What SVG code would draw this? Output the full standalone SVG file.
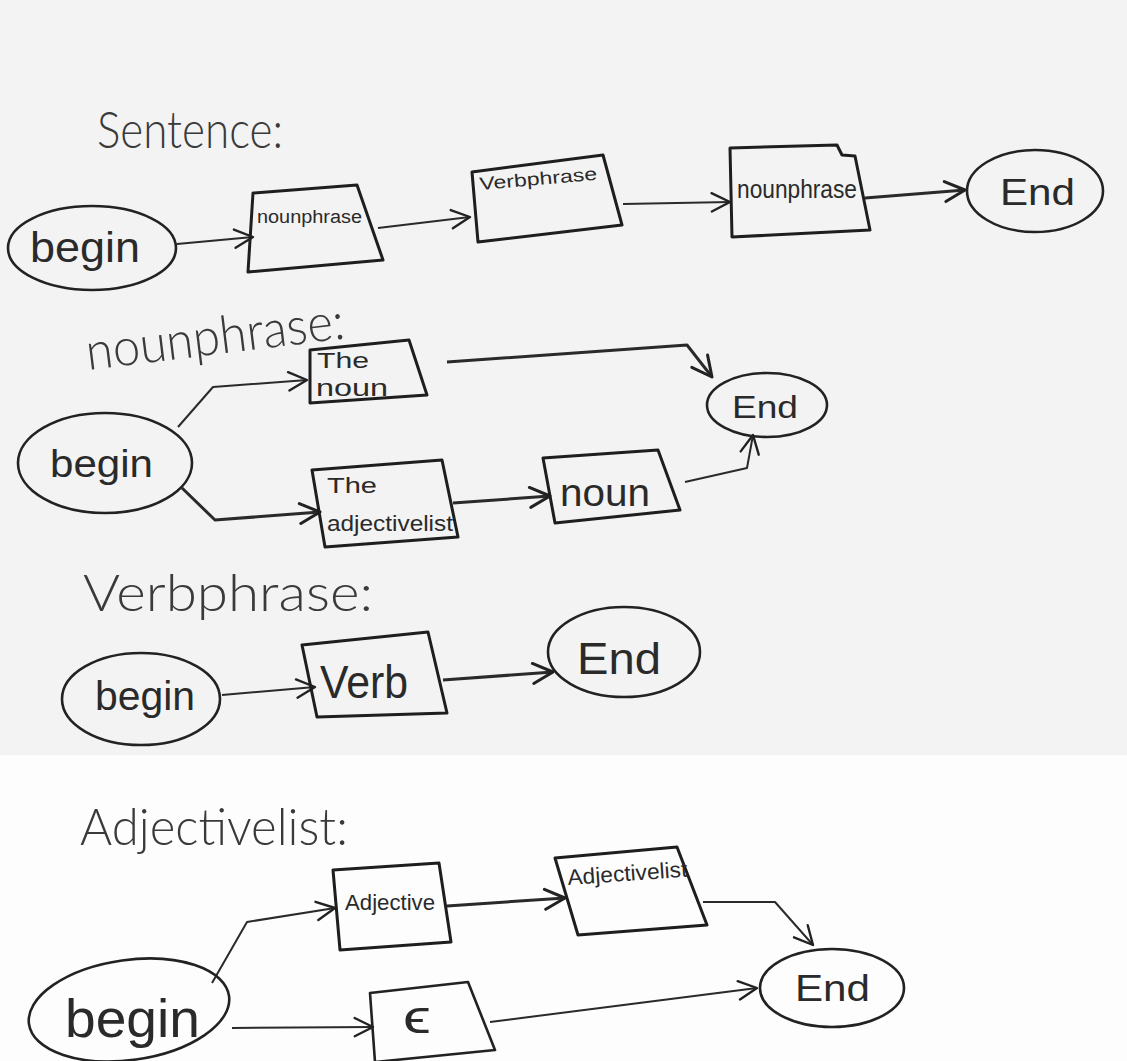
<svg xmlns="http://www.w3.org/2000/svg" width="1127" height="1061" viewBox="0 0 1127 1061">
<style>
.bg1{fill:#f3f3f3}
.bg2{fill:#fdfdfd}
.shape{fill:none;stroke:#222;stroke-width:2.6;stroke-linejoin:round}
.box{fill:none;stroke:#1e1e1e;stroke-width:3;stroke-linejoin:round}
.edge{fill:none;stroke:#2a2a2a;stroke-width:2;stroke-linejoin:round}
.thick{stroke-width:3}
.t{font-family:"Liberation Sans","DejaVu Sans",sans-serif;fill:#2a2a2a}
.title{font-family:Lato,"Open Sans","Liberation Sans",sans-serif;font-weight:300;font-size:52px;fill:#3a3a3a}
</style>
<defs>
<marker id="arr" viewBox="0 0 12 12" refX="11" refY="6" markerWidth="11" markerHeight="11" orient="auto" markerUnits="strokeWidth">
<path d="M1,1 L11,6 L1,11" fill="none" stroke="#222" stroke-width="1.3" stroke-linecap="round" stroke-linejoin="round"/>
</marker>
<marker id="arrB" viewBox="0 0 12 12" refX="11" refY="6" markerWidth="8" markerHeight="8" orient="auto" markerUnits="strokeWidth">
<path d="M1,1 L11,6 L1,11" fill="none" stroke="#222" stroke-width="1.5" stroke-linecap="round" stroke-linejoin="round"/>
</marker>
</defs>
<rect class="bg1" x="0" y="0" width="1127" height="755"/>
<rect class="bg2" x="0" y="755" width="1127" height="306"/>

<!-- Section titles -->
<g id="title-sentence"><text class="title" x="97" y="148" textLength="186" lengthAdjust="spacingAndGlyphs">Sentence:</text></g>
<g id="title-nounphrase"><text class="title" x="88" y="370" textLength="260" lengthAdjust="spacingAndGlyphs" transform="rotate(-7 88 370)">nounphrase:</text></g>
<g id="title-verbphrase"><text class="title" x="83" y="611" font-size="60" textLength="290" lengthAdjust="spacingAndGlyphs">Verbphrase:</text></g>
<g id="title-adjectivelist"><text class="title" x="80" y="845" font-size="56" textLength="268" lengthAdjust="spacingAndGlyphs">Adjectivelist:</text></g>

<g id="connectors">
<path class="edge" d="M177,244 L253,237" marker-end="url(#arr)"/>
<path class="edge" d="M378,228 L470,217" marker-end="url(#arr)"/>
<path class="edge" d="M623,204 L730,202" marker-end="url(#arr)"/>
<path class="edge thick" d="M865,198 L965,190" marker-end="url(#arrB)"/>
<path class="edge" d="M178,427 L213,387 L307,380" marker-end="url(#arr)"/>
<path class="edge thick" d="M182,488 L215,520 L320,512" marker-end="url(#arrB)"/>
<path class="edge thick" d="M447,362 L687,345 L712,377" marker-end="url(#arrB)"/>
<path class="edge thick" d="M453,503 L550,496" marker-end="url(#arrB)"/>
<path class="edge" d="M685,482 L747,468 L753,435" marker-end="url(#arr)"/>
<path class="edge" d="M222,695 L315,687" marker-end="url(#arr)"/>
<path class="edge thick" d="M443,680 L553,672" marker-end="url(#arrB)"/>
<path class="edge" d="M212,983 L247,922 L335,908" marker-end="url(#arr)"/>
<path class="edge thick" d="M447,906 L565,898" marker-end="url(#arrB)"/>
<path class="edge" d="M703,902 L775,902 L813,945" marker-end="url(#arr)"/>
<path class="edge" d="M232,1028 L373,1027" marker-end="url(#arr)"/>
<path class="edge" d="M490,1022 L757,988" marker-end="url(#arr)"/>
</g>

<!-- Sentence -->
<g id="s-begin"><ellipse class="shape" cx="92" cy="248" rx="84" ry="42"/><text class="t" x="30" y="262" font-size="42" textLength="110" lengthAdjust="spacingAndGlyphs">begin</text></g>
<g id="s-nounphrase"><polygon class="box" points="253,193 357,185 383,260 248,272"/><text class="t" x="257" y="223" font-size="18" textLength="105" lengthAdjust="spacingAndGlyphs">nounphrase</text></g>
<g id="s-verbphrase"><polygon class="box" points="472,172 603,155 622,225 478,242"/><text class="t" x="480" y="190" font-size="18" textLength="118" lengthAdjust="spacingAndGlyphs" transform="rotate(-5 480 190)">Verbphrase</text></g>
<g id="s-nounphrase2"><polygon class="box" points="730,148 837,145 842,155 855,156 870,230 732,237"/><text class="t" x="737" y="198" font-size="26" textLength="120" lengthAdjust="spacingAndGlyphs">nounphrase</text></g>
<g id="s-end"><ellipse class="shape" cx="1035" cy="191" rx="68" ry="41"/><text class="t" x="1000" y="205" font-size="36" textLength="75" lengthAdjust="spacingAndGlyphs">End</text></g>

<!-- nounphrase -->
<g id="n-begin"><ellipse class="shape" cx="105" cy="463" rx="87" ry="50"/><text class="t" x="50" y="477" font-size="38" textLength="103" lengthAdjust="spacingAndGlyphs">begin</text></g>
<g id="n-thenoun"><polygon class="box" points="310,350 409,340 427,395 310,403"/><text class="t" x="317" y="368" font-size="22" textLength="52" lengthAdjust="spacingAndGlyphs">The</text><text class="t" x="316" y="396" font-size="24" textLength="72" lengthAdjust="spacingAndGlyphs">noun</text></g>
<g id="n-theadj"><polygon class="box" points="312,470 442,460 458,537 325,547"/><text class="t" x="327" y="493" font-size="22" textLength="50" lengthAdjust="spacingAndGlyphs">The</text><text class="t" x="327" y="531" font-size="22" textLength="126" lengthAdjust="spacingAndGlyphs">adjectivelist</text></g>
<g id="n-noun"><polygon class="box" points="543,458 658,450 680,510 555,523"/><text class="t" x="560" y="506" font-size="38" textLength="90" lengthAdjust="spacingAndGlyphs">noun</text></g>
<g id="n-end"><ellipse class="shape" cx="767" cy="405" rx="60" ry="32"/><text class="t" x="732" y="418" font-size="32" textLength="66" lengthAdjust="spacingAndGlyphs">End</text></g>

<!-- Verbphrase -->
<g id="v-begin"><ellipse class="shape" cx="141" cy="699" rx="79" ry="46"/><text class="t" x="95" y="710" font-size="40" textLength="100" lengthAdjust="spacingAndGlyphs">begin</text></g>
<g id="v-verb"><polygon class="box" points="302,645 428,632 447,713 317,717"/><text class="t" x="320" y="698" font-size="46" textLength="88" lengthAdjust="spacingAndGlyphs">Verb</text></g>
<g id="v-end"><ellipse class="shape" cx="624" cy="652" rx="76" ry="45"/><text class="t" x="577" y="674" font-size="44" textLength="84" lengthAdjust="spacingAndGlyphs">End</text></g>

<!-- Adjectivelist -->
<g id="a-begin"><ellipse class="shape" cx="129" cy="1010" rx="101" ry="50" transform="rotate(-8 129 1010)"/><text class="t" x="65" y="1037" font-size="54" textLength="135" lengthAdjust="spacingAndGlyphs">begin</text></g>
<g id="a-adjective"><polygon class="box" points="333,870 439,863 451,942 340,950"/><text class="t" x="345" y="910" font-size="22" textLength="90" lengthAdjust="spacingAndGlyphs">Adjective</text></g>
<g id="a-adjlist"><polygon class="box" points="555,858 677,847 707,925 578,935"/><text class="t" x="568" y="885" font-size="22" textLength="120" lengthAdjust="spacingAndGlyphs" transform="rotate(-4 568 885)">Adjectivelist</text></g>
<g id="a-eps"><polygon class="shape" points="370,993 468,982 495,1050 375,1062"/><text class="t" x="403" y="1033" font-size="46" textLength="28" lengthAdjust="spacingAndGlyphs">ϵ</text></g>
<g id="a-end"><ellipse class="shape" cx="832" cy="988" rx="72" ry="39"/><text class="t" x="795" y="1001" font-size="36" textLength="75" lengthAdjust="spacingAndGlyphs">End</text></g>
</svg>
